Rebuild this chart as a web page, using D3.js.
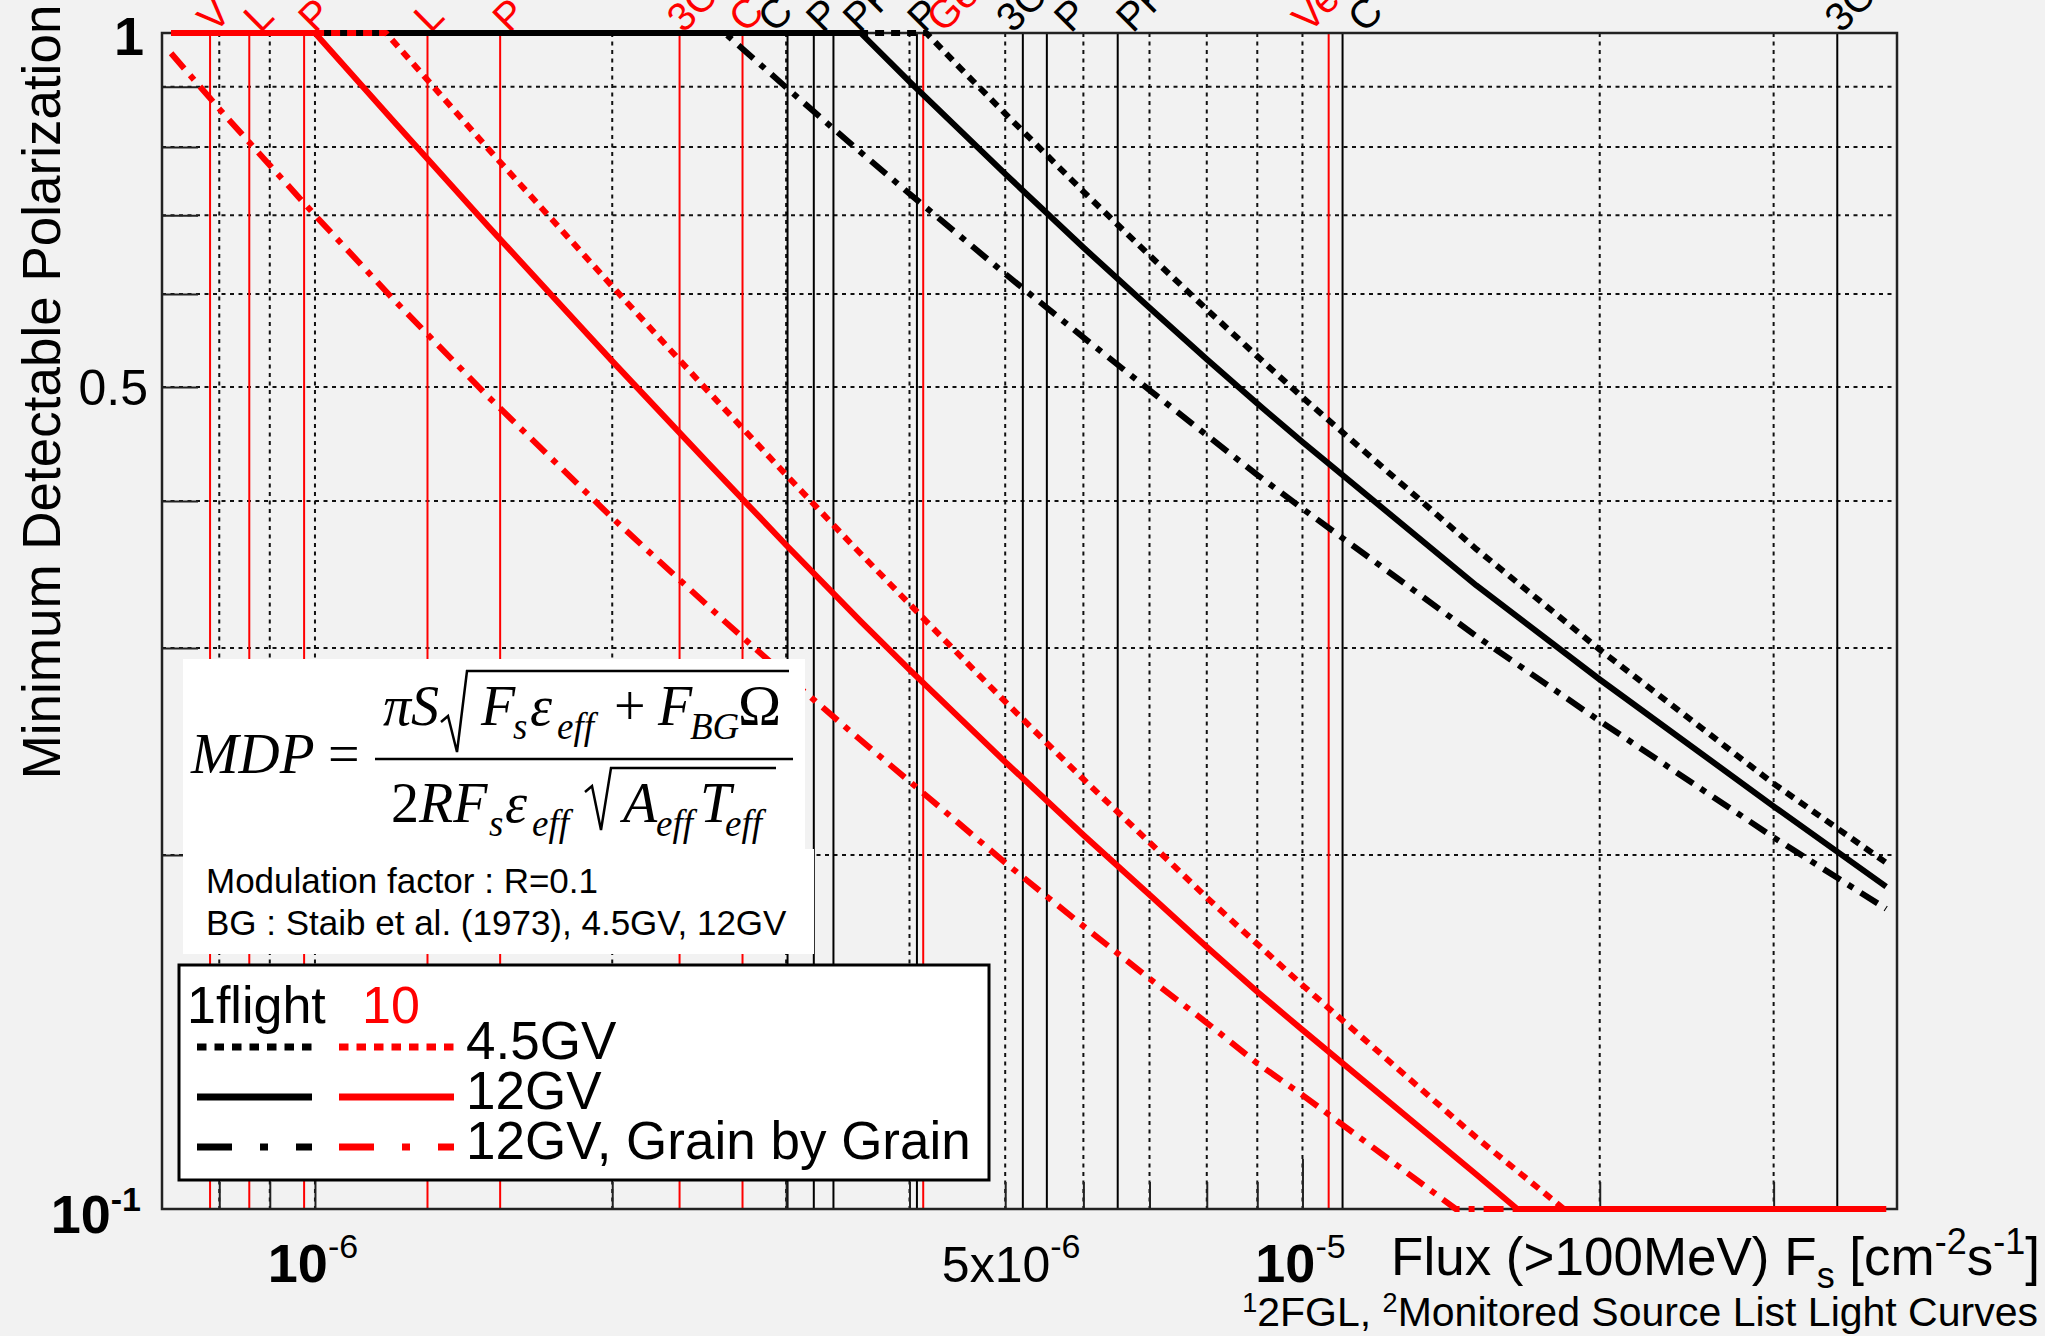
<!DOCTYPE html>
<html><head><meta charset="utf-8">
<script src="https://cdn.jsdelivr.net/npm/d3@7"></script>
<style>
html,body{margin:0;padding:0;background:#f2f2f2;}
svg{display:block;}
text{font-family:"Liberation Sans",Arial,Helvetica,sans-serif;}
.serif{font-family:"Liberation Serif","Times New Roman",serif;}
</style></head><body>
<svg id="chart" width="2045" height="1336"></svg>
<script>
// ---------------- data ----------------
const fluxDomain = [7e-7, 4e-5];
const mdpDomain = [0.1, 1];
const xGridValues = [8e-7, 9e-7, 1e-6, 2e-6, 3e-6, 4e-6, 5e-6, 6e-6, 7e-6, 8e-6, 9e-6, 1e-5, 2e-5, 3e-5];
const xMajorTicks = [1e-6, 1e-5];
const yGridValues = [0.2, 0.3, 0.4, 0.5, 0.6, 0.7, 0.8, 0.9];
const xTickValues = [1e-6, 5e-6, 1e-5];
const xTickBase = ["10", "5x10", "10"];
const xTickExp = ["-6", "-6", "-5"];
const xTickBold = [true, false, true];

// source lines: 2FGL (red) and Monitored Source List (black)
const src2FGLFlux = [7.83e-7, 8.58e-7, 9.75e-7, 1.30e-6, 1.54e-6, 2.34e-6, 2.71e-6, 4.13e-6, 1.063e-5];
const src2FGLName = ["V", "L", "P", "L", "P", "3C", "C", "Ge", "Ve"];
const srcMonFlux = [3.01e-6, 3.20e-6, 3.35e-6, 4.07e-6, 5.21e-6, 5.51e-6, 6.50e-6, 1.098e-5, 3.48e-5];
const srcMonName = ["C", "P", "PK", "P", "3C", "P", "PK", "C", "3C"];

// MDP curves, 1 flight (black)
const fluxBk45 = [7.15e-7, 4.16e-6, 4.5e-6, 5e-6, 6e-6, 7e-6, 8e-6, 9e-6, 1e-5, 1.5e-5, 2e-5, 3e-5, 3.9e-5];
const mdpBk45  = [1, 1, 0.934, 0.854, 0.733, 0.647, 0.582, 0.531, 0.490, 0.364, 0.299, 0.230, 0.197];
const fluxBk12 = [7.15e-7, 3.57e-6, 4e-6, 5e-6, 6e-6, 7e-6, 8e-6, 9e-6, 1e-5, 1.5e-5, 2e-5, 3e-5, 3.9e-5];
const mdpBk12  = [1, 1, 0.909, 0.759, 0.657, 0.584, 0.528, 0.484, 0.449, 0.339, 0.282, 0.220, 0.188];
const fluxBkGr = [7.15e-7, 2.6e-6, 3e-6, 3.5e-6, 4e-6, 5e-6, 6e-6, 7e-6, 8e-6, 9e-6, 1e-5, 1.5e-5, 2e-5, 3e-5, 3.9e-5];
const mdpBkGr  = [1, 1, 0.899, 0.803, 0.730, 0.624, 0.551, 0.497, 0.455, 0.421, 0.394, 0.307, 0.260, 0.207, 0.180];
// MDP curves, 10 flights (red)
const fluxRd45 = [7.15e-7, 1.18e-6, 1.5e-6, 2e-6, 2.5e-6, 3e-6, 3.5e-6, 4.16e-6, 5e-6, 6e-6, 7e-6, 8e-6, 9e-6, 1e-5, 1.5e-5, 1.84e-5, 3.9e-5];
const mdpRd45  = [1, 1, 0.796, 0.609, 0.496, 0.421, 0.367, 0.316, 0.270, 0.232, 0.205, 0.184, 0.168, 0.155, 0.115, 0.1, 0.1];
const fluxRd12 = [7.15e-7, 1e-6, 1.2e-6, 1.5e-6, 2e-6, 2.5e-6, 3e-6, 3.57e-6, 4e-6, 5e-6, 6e-6, 7e-6, 8e-6, 9e-6, 1e-5, 1.5e-5, 1.65e-5, 3.9e-5];
const mdpRd12  = [1, 1, 0.842, 0.684, 0.526, 0.431, 0.367, 0.316, 0.2875, 0.240, 0.208, 0.185, 0.167, 0.153, 0.142, 0.107, 0.1, 0.1];
const fluxRdGr = [7.15e-7, 8e-7, 9e-7, 1e-6, 1.2e-6, 1.5e-6, 2e-6, 2.6e-6, 3e-6, 3.5e-6, 4e-6, 5e-6, 6e-6, 7e-6, 8e-6, 9e-6, 1e-5, 1.43e-5, 3.9e-5];
const mdpRdGr  = [0.961, 0.862, 0.772, 0.700, 0.594, 0.490, 0.387, 0.316, 0.284, 0.254, 0.231, 0.197, 0.174, 0.157, 0.144, 0.133, 0.125, 0.1, 0.1];

const legendRows = ["4.5GV", "12GV", "12GV, Grain by Grain"];

// ---------------- layout ----------------
const svg = d3.select("#chart");
const P = {left: 162, right: 1897, top: 33, bottom: 1209};
const x = d3.scaleLog().domain(fluxDomain).range([P.left, P.right]);
const y = d3.scaleLog().domain(mdpDomain).range([P.bottom, P.top]);
const RED = "#ff0000";
// per-label horizontal nudges for the rotated source names (layout only)
const nudge2FGL = [0, 7, 7, -1, 5, 0, -1, 16, -24];
const nudgeMon = [-17, 5, 22, 3, -14, 20, 11, 18, 0];

svg.append("rect").attr("width", 2045).attr("height", 1336).attr("fill", "#f2f2f2");

// grid
const grid = svg.append("g").attr("stroke", "#111").attr("stroke-width", 2).attr("stroke-dasharray", "4,4.5");
grid.selectAll("line.vx").data(xGridValues).join("line")
  .attr("x1", d => x(d)).attr("x2", d => x(d)).attr("y1", P.top).attr("y2", P.bottom);
grid.selectAll("line.hy").data(yGridValues).join("line")
  .attr("y1", d => y(d)).attr("y2", d => y(d)).attr("x1", P.left).attr("x2", P.right);

// source lines
const srcG = svg.append("g").attr("stroke-width", 2);
srcG.selectAll("line.r").data(src2FGLFlux).join("line").attr("stroke", RED)
  .attr("x1", d => x(d)).attr("x2", d => x(d)).attr("y1", P.top).attr("y2", P.bottom);
srcG.selectAll("line.k").data(srcMonFlux).join("line").attr("stroke", "#000")
  .attr("x1", d => x(d)).attr("x2", d => x(d)).attr("y1", P.top).attr("y2", P.bottom);

// top labels (rotated, clipped by the page top as in the original)
const labG = svg.append("g").attr("font-size", 40);
function addSrcLabels(fl, names, nud, color) {
  labG.selectAll(null).data(fl).join("text")
    .attr("transform", (d, i) => `translate(${x(d) + 4 + nud[i]},${P.top + 1}) rotate(-45)`)
    .attr("fill", color)
    .text((d, i) => names[i]);
}
addSrcLabels(src2FGLFlux, src2FGLName, nudge2FGL, RED);
addSrcLabels(srcMonFlux, srcMonName, nudgeMon, "#000");

// frame
svg.append("rect").attr("x", P.left).attr("y", P.top).attr("width", P.right - P.left).attr("height", P.bottom - P.top)
  .attr("fill", "none").attr("stroke", "#222").attr("stroke-width", 2.5);

// axes ticks via d3 axes
const yAxis = d3.axisLeft(y).tickValues(yGridValues).tickSize(-36).tickFormat("");
const ya = svg.append("g").attr("transform", `translate(${P.left},0)`).call(yAxis);
ya.select(".domain").remove();
ya.selectAll("line").attr("stroke", "#222").attr("stroke-width", 2);
const xAxisMinor = d3.axisBottom(x).tickValues(xGridValues.filter(v => !xMajorTicks.includes(v))).tickSize(-27).tickFormat("");
const xa = svg.append("g").attr("transform", `translate(0,${P.bottom})`).call(xAxisMinor);
xa.select(".domain").remove();
xa.selectAll("line").attr("stroke", "#222").attr("stroke-width", 2);
const xAxisMajor = d3.axisBottom(x).tickValues(xMajorTicks).tickSize(-50).tickFormat("");
const xb = svg.append("g").attr("transform", `translate(0,${P.bottom})`).call(xAxisMajor);
xb.select(".domain").remove();
xb.selectAll("line").attr("stroke", "#222").attr("stroke-width", 2);

// curves
const line = d3.line().x(d => x(d[0])).y(d => y(d[1]));
const curves = [
  {f: fluxBkGr, m: mdpBkGr, c: "#000", dash: "20,9,6,9"},
  {f: fluxBk45, m: mdpBk45, c: "#000", dash: "9,7"},
  {f: fluxBk12, m: mdpBk12, c: "#000", dash: null},
  {f: fluxRdGr, m: mdpRdGr, c: RED, dash: "20,9,6,9"},
  {f: fluxRd45, m: mdpRd45, c: RED, dash: "9,7"},
  {f: fluxRd12, m: mdpRd12, c: RED, dash: null}
];
const cg = svg.append("g");
curves.forEach(cv => {
  cg.append("path").datum(cv.f.map((f, i) => [f, cv.m[i]]))
    .attr("d", line).attr("fill", "none").attr("stroke", cv.c).attr("stroke-width", 6)
    .attr("stroke-dasharray", cv.dash).attr("stroke-linejoin", "round");
});

// axis labels
const yl = svg.append("g").attr("fill", "#000");
yl.append("text").attr("x", 144).attr("y", y(1) + 22).attr("text-anchor", "end")
  .attr("font-size", 54).attr("font-weight", "bold").text("1");
yl.append("text").attr("x", 148).attr("y", y(0.5) + 18).attr("text-anchor", "end")
  .attr("font-size", 50).text("0.5");
const t01 = yl.append("text").attr("x", 141).attr("y", y(0.1) + 24).attr("text-anchor", "end")
  .attr("font-size", 54).attr("font-weight", "bold");
t01.append("tspan").text("10");
t01.append("tspan").attr("font-size", 34).attr("dy", -22).text("-1");

const xl = svg.append("g");
xTickValues.forEach((v, i) => {
  const t = xl.append("text").attr("x", x(v) + (i === 1 ? 6 : -2)).attr("y", 1282).attr("text-anchor", "middle")
    .attr("font-size", xTickBold[i] ? 54 : 50).attr("font-weight", xTickBold[i] ? "bold" : "normal");
  t.append("tspan").text(xTickBase[i]);
  t.append("tspan").attr("font-size", 34).attr("font-weight", "normal").attr("dy", -24).text(xTickExp[i]);
});

// axis titles
svg.append("text").attr("transform", "translate(60,392) rotate(-90)").attr("text-anchor", "middle")
  .attr("font-size", 53).text("Minimum Detectable Polarization");
const xt = svg.append("text").attr("x", 2040).attr("y", 1275).attr("text-anchor", "end").attr("font-size", 53);
xt.append("tspan").text("Flux (>100MeV) F");
xt.append("tspan").attr("font-size", 36).attr("dy", 13).text("s");
xt.append("tspan").attr("dy", -13).text(" [cm");
xt.append("tspan").attr("font-size", 36).attr("dy", -21).text("-2");
xt.append("tspan").attr("dy", 21).text("s");
xt.append("tspan").attr("font-size", 36).attr("dy", -21).text("-1");
xt.append("tspan").attr("dy", 21).text("]");
const st = svg.append("text").attr("x", 2038).attr("y", 1326).attr("text-anchor", "end").attr("font-size", 41);
st.append("tspan").attr("font-size", 27).attr("dy", -14).text("1");
st.append("tspan").attr("dy", 14).text("2FGL, ");
st.append("tspan").attr("font-size", 27).attr("dy", -14).text("2");
st.append("tspan").attr("dy", 14).text("Monitored Source List Light Curves");

// formula box
const fb = svg.append("g");
fb.append("rect").attr("x", 183).attr("y", 659).attr("width", 622).attr("height", 192).attr("fill", "#fff");
fb.append("rect").attr("x", 183).attr("y", 849).attr("width", 631).attr("height", 105).attr("fill", "#fff");
function ft(xp, yp, txt, size, italic) {
  fb.append("text").attr("class", "serif").attr("x", xp).attr("y", yp).attr("font-size", size)
    .attr("font-style", italic ? "italic" : "normal").text(txt);
}
ft(191, 773, "MDP", 57, true);
ft(328, 773, "=", 56, false);
fb.append("line").attr("x1", 375).attr("x2", 793).attr("y1", 759).attr("y2", 759).attr("stroke", "#000").attr("stroke-width", 2.5);
// numerator
ft(383, 725, "\u03C0S", 56, true);
fb.append("path").attr("d", "M441,722 L448,716 L457,752 L467,671 L789,671").attr("fill", "none").attr("stroke", "#000").attr("stroke-width", 2.5);
ft(481, 725, "F", 56, true);
ft(513, 739, "s", 37, true);
ft(530, 725, "\u03B5", 56, true);
ft(557, 739, "eff", 37, true);
ft(614, 725, "+", 56, false);
ft(658, 725, "F", 56, true);
ft(690, 739, "BG", 37, true);
ft(738, 725, "\u03A9", 58, false);
// denominator
ft(391, 822, "2", 56, false);
ft(419, 822, "RF", 56, true);
ft(489, 836, "s", 37, true);
ft(505, 822, "\u03B5", 56, true);
ft(532, 836, "eff", 37, true);
fb.append("path").attr("d", "M585,792 L592,786 L601,830 L611,768 L776,768").attr("fill", "none").attr("stroke", "#000").attr("stroke-width", 2.5);
ft(623, 822, "A", 56, true);
ft(656, 836, "eff", 37, true);
ft(700, 822, "T", 56, true);
ft(725, 836, "eff", 37, true);
fb.append("text").attr("x", 206).attr("y", 893).attr("font-size", 35).text("Modulation factor : R=0.1");
fb.append("text").attr("x", 206).attr("y", 935).attr("font-size", 35).text("BG : Staib et al. (1973), 4.5GV, 12GV");

// legend
const lg = svg.append("g");
lg.append("rect").attr("x", 179).attr("y", 965).attr("width", 810).attr("height", 215)
  .attr("fill", "#fff").attr("stroke", "#000").attr("stroke-width", 3);
lg.append("text").attr("x", 187).attr("y", 1023).attr("font-size", 52).text("1flight");
lg.append("text").attr("x", 362).attr("y", 1023).attr("font-size", 52).attr("fill", RED).text("10");
const legDash = ["9.5,8", null, "35,28,8,28"];
const legY = [1047, 1097, 1147];
legendRows.forEach((r, i) => {
  lg.append("line").attr("x1", 197).attr("x2", 312).attr("y1", legY[i]).attr("y2", legY[i])
    .attr("stroke", "#000").attr("stroke-width", 7).attr("stroke-dasharray", legDash[i]);
  lg.append("line").attr("x1", 339).attr("x2", 454).attr("y1", legY[i]).attr("y2", legY[i])
    .attr("stroke", RED).attr("stroke-width", 7).attr("stroke-dasharray", legDash[i]);
  lg.append("text").attr("x", 466).attr("y", legY[i] + 12).attr("font-size", 53).text(r);
});
</script>
</body></html>
